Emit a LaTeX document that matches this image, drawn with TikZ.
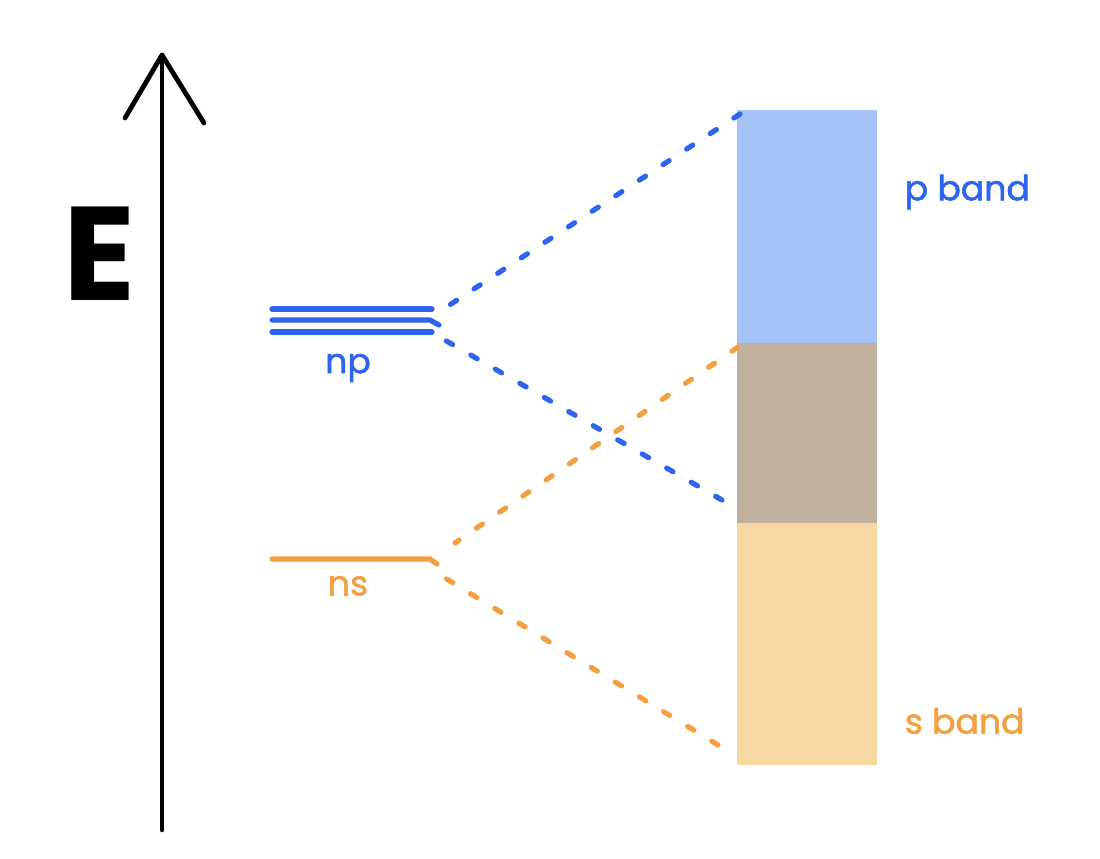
\documentclass[tikz,border=0pt]{standalone}
\usepackage{fontspec}
\setmainfont{Poppins}
\definecolor{lblue}{RGB}{45,100,240}
\definecolor{lorange}{RGB}{244,160,64}
\definecolor{bandblue}{RGB}{166,195,248}
\definecolor{bandtan}{RGB}{191,177,157}
\definecolor{bandorange}{RGB}{247,216,163}
\tikzset{
  level/.style={line width=3.9pt, line cap=round, line join=round},
  dashconn/.style={line width=3.9pt, line cap=round, dash pattern=on 5.5pt off 15.7pt},
  bandbox/.style={draw=none, inner sep=0pt, anchor=north west, minimum width=105pt},
  lbl/.style={font=\fontsize{26}{30}\selectfont\addfontfeature{FakeBold=1.6}},
}
\begin{document}
\begin{tikzpicture}[x=0.75pt,y=-0.75pt]
\useasboundingbox (0,0) rectangle (1100,858);
% energy axis
\coordinate (axbot) at (162,830);
\coordinate (axtop) at (162,55);
\coordinate (hl) at (125,118);
\coordinate (hr) at (204,123);
\draw[line width=3.4pt, line cap=round] (axbot) -- (axtop);
\draw[line width=3.6pt, line cap=round, line join=round] (hl) -- (axtop) -- (hr);
\node[font=\fontsize{100}{100}\selectfont\bfseries] (E) at (100,254) {E};
% bands
\node[bandbox, fill=bandblue, minimum height=174.75pt] (pband) at (737,110) {};
\node[bandbox, fill=bandtan, minimum height=135pt] (mid) at (737,343) {};
\node[bandbox, fill=bandorange, minimum height=181.5pt] (sband) at (737,523) {};
\node[lbl, text=lblue, anchor=west] (plabel) at (900,192) {p band};
\node[lbl, text=lorange, anchor=west] (slabel) at (900,721) {s band};
% np levels
\draw[level, lblue] (272,309) -- (432,309);
\draw[level, lblue] (272,320) -- (430,320) -- (439,325);
\draw[level, lblue] (272,332) -- (432,332);
\coordinate (npend) at (439,325);
\node[lbl, text=lblue] (np) at (348,368) {np};
% ns level
\draw[level, lorange] (272,559) -- (430,559) -- (437,564);
\coordinate (nsend) at (437,564);
\node[lbl, text=lorange] (ns) at (348,586) {ns};
% connectors
\coordinate (pt) at (740,114);
\coordinate (pb) at (722,500);
\coordinate (st) at (738,347);
\coordinate (sb) at (718,745);
\coordinate (npa) at (448,306);
\coordinate (npb) at (443,339);
\coordinate (nsa) at (455,543);
\coordinate (nsb) at (445,578);
\draw[dashconn, lblue] (pt) -- (npa);
\draw[dashconn, lblue] (pb) -- (npb);
\draw[dashconn, lorange] (st) -- (nsa);
\draw[dashconn, lorange] (sb) -- (nsb);
\end{tikzpicture}
\end{document}
